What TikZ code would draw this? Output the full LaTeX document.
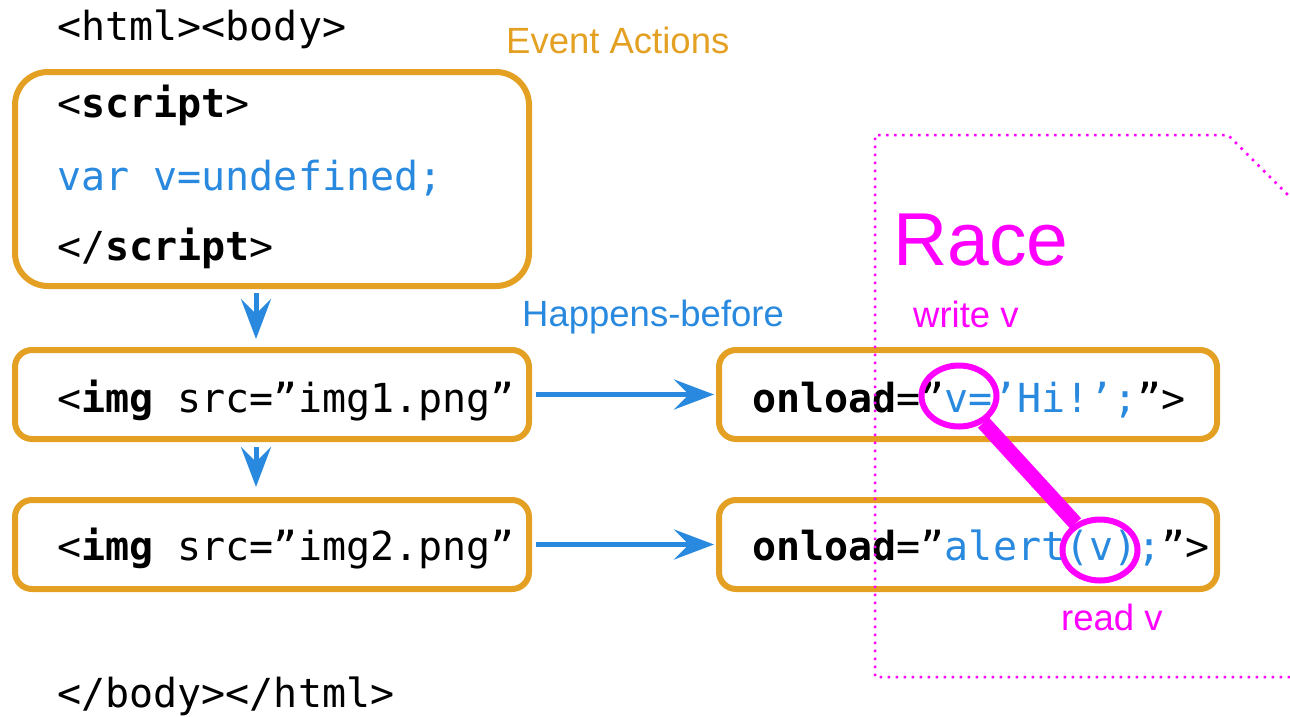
\documentclass[tikz,border=0pt]{standalone}
\usepackage{fontspec}
\setmainfont{Liberation Sans}
\setmonofont{DejaVu Sans Mono}
\usetikzlibrary{arrows.meta,shapes.geometric}
\definecolor{evorange}{RGB}{227,160,35}
\definecolor{hbblue}{RGB}{40,137,222}
\definecolor{racemag}{RGB}{255,0,255}
\begin{document}
\begin{tikzpicture}[x=1pt,y=-1pt,
 box/.style={draw=evorange,line width=6pt,rounded corners=17pt,minimum width=514pt,minimum height=89pt,inner sep=0pt},
 code/.style={anchor=base west,inner sep=0pt,font=\ttfamily\fontsize{40}{48}\selectfont},
 lbl/.style={anchor=base west,inner sep=0pt,font=\fontsize{36.5}{44}\selectfont},
 hb/.style={draw=hbblue,line width=5pt,-{Stealth[length=40pt,width=30pt,inset=15pt]}},
 racering/.style={draw=racemag,ellipse,line width=6pt,minimum width=75pt,minimum height=61pt,inner sep=0pt}]
\useasboundingbox (0,0) rectangle (1290,716);

% boxes
\node[box,rounded corners=33pt,minimum height=214pt] (s) at (272,179) {};
\node[box] (i1) at (272,394.5) {};
\node[box] (i2) at (272,544.5) {};
\node[box,minimum width=498pt] (o1) at (968,394.5) {};
\node[box,minimum width=498pt] (o2) at (968,544.5) {};

% code text
\node[code] (thtml) at (57,40) {<html><body>};
\node[code] (tscr1) at (57,117) {<\textbf{script}>};
\node[code,text=hbblue] (tvar) at (57,190) {var v=undefined;};
\node[code] (tscr2) at (57,260) {</\textbf{script}>};
\node[code] (timg1) at (57,412) {<\textbf{img} src=”img1.png”};
\node[code] (timg2) at (57,560) {<\textbf{img} src=”img2.png”};
\node[code] (tol1) at (752,412) {\textbf{onload}=”\textcolor{hbblue}{v=’Hi!’;}”>};
\node[code] (tol2) at (752,560) {\textbf{onload}=”\textcolor{hbblue}{alert(v);}”>};
\node[code] (tend) at (57,707) {</body></html>};

% labels
\node[lbl,text=evorange] (lev) at (506,53) {Event Actions};
\node[lbl,text=hbblue] (lhb) at (522,326) {Happens-before};
\node[lbl,text=racemag,font=\fontsize{75}{90}\selectfont] (lrace) at (893,265) {Race};
\node[lbl,text=racemag] (lw) at (913,327) {write v};
\node[lbl,text=racemag] (lr) at (1061,630) {read v};

% happens-before arrows
\draw[hb] ([xshift=-16pt,yshift=-4pt]s.south) -- ([xshift=-16pt,yshift=8pt]i1.north);
\draw[hb] ([xshift=-16pt,yshift=-5pt]i1.south) -- ([xshift=-16pt,yshift=10pt]i2.north);
\draw[hb] ([xshift=4pt]i1.east) -- ([xshift=-2pt]o1.west);
\draw[hb] ([xshift=4pt]i2.east) -- ([xshift=-2pt]o2.west);

% race region
\draw[racemag,line width=2.5pt,dash pattern=on 2.5pt off 5.5pt]
  (1290,677) -- (875,677) -- (875,135) -- (1228,135) -- (1290,197);

% race marks
\node[racering] (ew) at (959,396) {};
\node[racering] (er) at (1100,550) {};
\draw[racemag,line width=15pt] (ew) -- (er);
\end{tikzpicture}
\end{document}
